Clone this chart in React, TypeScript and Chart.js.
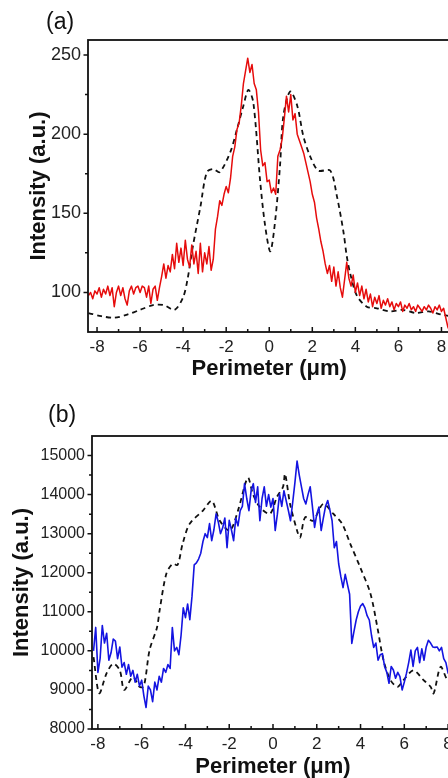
import React, { useEffect, useRef } from 'react';
import { Chart, registerables } from 'chart.js';

Chart.register(...registerables);

const FONT = '"Liberation Sans", Arial, Helvetica, sans-serif';

// ---------- Panel (a) ----------
const A_X_START = -8.4;
const A_X_STEP = 0.1;
// measured (red, solid) intensity, sampled every 0.1 µm from -8.4 µm
const A_MEASURED = [
  98, 100, 96, 101, 99, 103, 97, 102, 99, 104,
  98, 103, 91, 100, 104, 98, 103, 96, 92, 101,
  104, 99, 103, 104, 100, 104, 103, 97, 104, 93,
  102, 104, 95, 103, 110, 118, 109, 117, 113, 124,
  115, 131, 119, 128, 117, 133, 121, 116, 130, 118,
  126, 112, 131, 113, 125, 118, 129, 114, 121, 140,
  148, 158, 155, 162, 167, 163, 172, 186, 192, 203,
  207, 218, 232, 240, 248, 239, 244, 232, 228, 214,
  190, 180, 182, 170, 171, 163, 166, 162, 186, 190,
  197, 210, 224, 214, 225, 209, 213, 200, 196, 192,
  188, 182, 176, 170, 162, 157, 147, 140, 132, 126,
  118, 112, 117, 107, 116, 104, 113, 103, 97, 108,
  119, 109, 104, 111, 100, 106, 98, 104, 96, 102,
  94, 99, 91, 97, 93, 98, 90, 95, 92, 96,
  91, 94, 89, 93, 91, 94, 88, 92, 90, 93,
  89, 91, 88, 92, 90, 88, 91, 89, 92, 90,
  87, 91, 89, 92, 88, 90, 84, 78, 75,
];
// simulated (black, dashed)
const A_SIM_X = [
  -8.4, -7.8, -7.2, -6.6, -6.0, -5.4, -4.9, -4.4, -4.0, -3.8,
  -3.55, -3.2, -2.9, -2.6, -2.3, -1.8, -1.5, -1.2, -0.97, -0.74,
  -0.42, -0.19, 0.05, 0.28, 0.5, 0.65, 0.97, 1.3, 1.58, 1.9,
  2.28, 2.83, 3.14, 3.45, 3.6, 3.76, 4.07, 4.53, 5.0, 5.6,
  6.2, 6.8, 7.4, 8.0, 8.4,
];
const A_SIM_Y = [
  87, 85, 84, 86, 89, 92, 92, 89, 97, 108,
  129, 154, 176, 178, 176, 189, 203, 218, 228, 220,
  170, 142, 126, 146, 180, 211, 227, 218, 199, 186,
  177, 177, 161, 138, 123, 112, 98, 91, 90, 88,
  89, 87, 88, 86, 85,
];
const A_X_TICKS = [-8, -6, -4, -2, 0, 2, 4, 6, 8];
const A_X_MINOR = [-7, -5, -3, -1, 1, 3, 5, 7];
const A_Y_TICKS = [100, 150, 200, 250];
const A_Y_MINOR = [125, 175, 225];

// ---------- Panel (b) ----------
const B_X_START = -8.2;
const B_X_STEP = 0.1;
const B_MEASURED = [
  10000, 10600, 9450, 9800, 10650, 10200, 10450, 9760, 9950, 10300,
  10250, 9800, 10100, 9580, 9700, 9400, 9650, 9350, 9500, 9200,
  9400, 9100, 9250, 8850, 8550, 9100, 9000, 8700, 9200, 9000,
  9350, 9200, 9550, 9450, 9650, 9550, 10600, 10000, 10090, 9900,
  10400, 11100, 10850, 11200, 10800, 11400, 12200, 12250, 12350, 12500,
  12800, 13000, 12900, 13260, 12820, 13100, 13510, 13300, 13000, 13150,
  13400, 12640, 13340, 13100, 12820, 13400, 13200, 13590, 13700, 14280,
  13900, 13590, 14100, 14280, 13800, 14200, 13330, 13900, 14200, 13700,
  14000, 13680, 13900, 13080, 13500, 14020, 13700, 14100, 13850, 13600,
  13330, 13800, 14300, 14860, 14500, 14200, 13900, 13760, 14000, 14200,
  13700, 13160, 13500, 13680, 13080, 13400, 13700, 13850, 13600, 13330,
  12640, 12800, 12230, 11900, 11620, 11960, 11700, 11450, 10190, 10500,
  10790, 11000, 11150, 11210, 11100, 10900, 10790, 10400, 10090, 10200,
  9760, 9900, 9930, 9600, 9450, 9170, 9600, 9510, 9300, 9450,
  9340, 9000, 9200, 9430, 9700, 10020, 9600, 10000, 10090, 9700,
  10050, 9760, 10100, 10270, 10200, 10100, 10090, 10100, 10000, 10090,
  9800, 9700, 9430, 9700, 9100,
];
const B_SIM_X = [
  -8.2, -7.94, -7.6, -7.3, -7.0, -6.8, -6.4, -6.1, -5.9, -5.64,
  -5.3, -5.18, -4.87, -4.58, -4.36, -4.13, -3.81, -3.2, -2.8, -2.43,
  -1.97, -1.6, -1.15, -0.92, -0.6, -0.14, 0.18, 0.46, 0.55, 0.78,
  1.1, 1.24, 1.47, 1.83, 2.29, 2.75, 3.16, 3.53, 3.99, 4.45,
  4.77, 5.05, 5.37, 5.69, 5.96, 6.42, 6.88, 7.2, 7.34, 7.66,
  7.98, 8.2,
];
const B_SIM_Y = [
  9840, 8920, 9430, 9670, 9500, 9000, 9330, 9080, 9100, 10020,
  10600, 11040, 11980, 12230, 12200, 12740, 13250, 13590, 13840, 13330,
  13080, 13590, 14430, 14020, 13680, 13510, 13940, 14200, 14530, 13760,
  13080, 12900, 13420, 13330, 13760, 13510, 13250, 12740, 12130, 11470,
  10600, 9760, 9250, 9080, 9250, 9500, 9250, 9080, 8910, 9590,
  9250, 9300,
];
const B_X_TICKS = [-8, -6, -4, -2, 0, 2, 4, 6, 8];
const B_X_MINOR = [-7, -5, -3, -1, 1, 3, 5, 7];
const B_Y_TICKS = [8000, 9000, 10000, 11000, 12000, 13000, 14000, 15000];
const B_Y_MINOR = [8500, 9500, 10500, 11500, 12500, 13500, 14500];

const X_TITLE = 'Perimeter (\u03bcm)';
const Y_TITLE = 'Intensity (a.u.)';

function gridSeries(start: number, step: number, values: number[]) {
  return values.map((v, i) => ({ x: +(start + i * step).toFixed(3), y: v }));
}
function pairSeries(xs: number[], ys: number[]) {
  return xs.map((x, i) => ({ x, y: ys[i] }));
}

function makeDecor(o: { label: string; lx: number; ly: number; xMinor: number[]; yMinor: number[] }) {
  return {
    id: 'decor',
    afterDraw(chart: any) {
      const { ctx, chartArea: a, scales } = chart;
      const xs = scales.x;
      const ys = scales.y;
      ctx.save();
      ctx.strokeStyle = '#111';
      ctx.lineWidth = 1.8;
      ctx.strokeRect(a.left, a.top, a.right - a.left, a.bottom - a.top);
      ctx.lineWidth = 1.5;
      ctx.beginPath();
      xs.ticks.forEach((t: any) => {
        const p = xs.getPixelForValue(t.value);
        ctx.moveTo(p, a.bottom);
        ctx.lineTo(p, a.bottom - 5);
      });
      o.xMinor.forEach((v) => {
        const p = xs.getPixelForValue(v);
        ctx.moveTo(p, a.bottom);
        ctx.lineTo(p, a.bottom - 3);
      });
      ys.ticks.forEach((t: any) => {
        const p = ys.getPixelForValue(t.value);
        ctx.moveTo(a.left, p);
        ctx.lineTo(a.left - 4.5, p);
      });
      o.yMinor.forEach((v) => {
        const p = ys.getPixelForValue(v);
        ctx.moveTo(a.left, p);
        ctx.lineTo(a.left - 3, p);
      });
      ctx.stroke();
      ctx.fillStyle = '#111';
      ctx.font = `23px ${FONT}`;
      ctx.textAlign = 'left';
      ctx.textBaseline = 'alphabetic';
      ctx.fillText(o.label, o.lx, o.ly);
      ctx.restore();
    },
  };
}

function makeConfig(p: {
  solid: { x: number; y: number }[];
  dashed: { x: number; y: number }[];
  color: string;
  solidWidth: number;
  xMin: number;
  xMax: number;
  xTicks: number[];
  yMin: number;
  yMax: number;
  yTicks: number[];
  yTickSize: number;
  yAxisWidth: number;
  xAxisHeight: number;
  padTop: number;
  padRight: number;
  yTitlePad: number;
  xTitlePad: number;
  decor: any;
}): any {
  return {
    type: 'line',
    data: {
      datasets: [
        {
          data: p.solid,
          borderColor: p.color,
          borderWidth: p.solidWidth,
          pointRadius: 0,
          tension: 0,
          fill: false,
          borderJoinStyle: 'round',
        },
        {
          data: p.dashed,
          borderColor: '#111',
          borderWidth: 1.8,
          borderDash: [5, 4],
          pointRadius: 0,
          tension: 0.3,
          fill: false,
        },
      ],
    },
    options: {
      responsive: false,
      animation: false,
      devicePixelRatio: 1,
      layout: { padding: { left: 0, top: p.padTop, right: p.padRight, bottom: 0 } },
      plugins: { legend: { display: false }, tooltip: { enabled: false }, title: { display: false } },
      scales: {
        x: {
          type: 'linear',
          min: p.xMin,
          max: p.xMax,
          grid: { display: false, drawTicks: false },
          border: { display: false },
          afterBuildTicks: (s: any) => {
            s.ticks = p.xTicks.map((v) => ({ value: v }));
          },
          ticks: {
            autoSkip: false,
            maxRotation: 0,
            padding: 5,
            color: '#222',
            font: { size: 17, family: FONT },
            callback: (v: any) => String(v),
          },
          title: {
            display: true,
            text: X_TITLE,
            color: '#111',
            font: { size: 22, weight: 'bold', family: FONT },
            padding: { top: 0, bottom: p.xTitlePad },
          },
          afterFit: (s: any) => {
            s.height = p.xAxisHeight;
          },
        },
        y: {
          type: 'linear',
          min: p.yMin,
          max: p.yMax,
          grid: { display: false, drawTicks: false },
          border: { display: false },
          afterBuildTicks: (s: any) => {
            s.ticks = p.yTicks.map((v) => ({ value: v }));
          },
          ticks: {
            autoSkip: false,
            padding: 7,
            color: '#222',
            font: { size: p.yTickSize, family: FONT },
            callback: (v: any) => String(v),
          },
          title: {
            display: true,
            text: Y_TITLE,
            color: '#111',
            font: { size: 22, weight: 'bold', family: FONT },
            padding: { top: p.yTitlePad, bottom: 0 },
          },
          afterFit: (s: any) => {
            s.width = p.yAxisWidth;
          },
        },
      },
    },
    plugins: [p.decor],
  };
}

export default function App() {
  const refA = useRef<HTMLCanvasElement>(null);
  const refB = useRef<HTMLCanvasElement>(null);

  useEffect(() => {
    const cfgA = makeConfig({
      solid: gridSeries(A_X_START, A_X_STEP, A_MEASURED),
      dashed: pairSeries(A_SIM_X, A_SIM_Y),
      color: 'rgb(230,12,12)',
      solidWidth: 1.5,
      xMin: -8.42,
      xMax: 8.42,
      xTicks: A_X_TICKS,
      yMin: 75,
      yMax: 259.5,
      yTicks: A_Y_TICKS,
      yTickSize: 18,
      yAxisWidth: 88,
      xAxisHeight: 53,
      padTop: 40,
      padRight: 19.5,
      yTitlePad: 26,
      xTitlePad: 3,
      decor: makeDecor({ label: '(a)', lx: 46, ly: 29, xMinor: A_X_MINOR, yMinor: A_Y_MINOR }),
    });
    const cfgB = makeConfig({
      solid: gridSeries(B_X_START, B_X_STEP, B_MEASURED),
      dashed: pairSeries(B_SIM_X, B_SIM_Y),
      color: 'rgb(20,20,225)',
      solidWidth: 1.6,
      xMin: -8.27,
      xMax: 8.27,
      xTicks: B_X_TICKS,
      yMin: 8000,
      yMax: 15500,
      yTicks: B_Y_TICKS,
      yTickSize: 16,
      yAxisWidth: 92,
      xAxisHeight: 51,
      padTop: 51,
      padRight: 16,
      yTitlePad: 9,
      xTitlePad: 0,
      decor: makeDecor({ label: '(b)', lx: 48, ly: 37, xMinor: B_X_MINOR, yMinor: B_Y_MINOR }),
    });
    const ca = new Chart(refA.current as HTMLCanvasElement, cfgA);
    const cb = new Chart(refB.current as HTMLCanvasElement, cfgB);
    return () => {
      ca.destroy();
      cb.destroy();
    };
  }, []);

  return (
    <div
      style={{
        position: 'fixed',
        left: 0,
        top: 0,
        width: 448,
        height: 778,
        overflow: 'hidden',
        background: '#fff',
      }}
    >
      <canvas
        ref={refA}
        width={470}
        height={385}
        style={{ position: 'absolute', left: 0, top: 0, width: 470, height: 385 }}
      />
      <canvas
        ref={refB}
        width={470}
        height={395}
        style={{ position: 'absolute', left: 0, top: 385, width: 470, height: 395 }}
      />
    </div>
  );
}
